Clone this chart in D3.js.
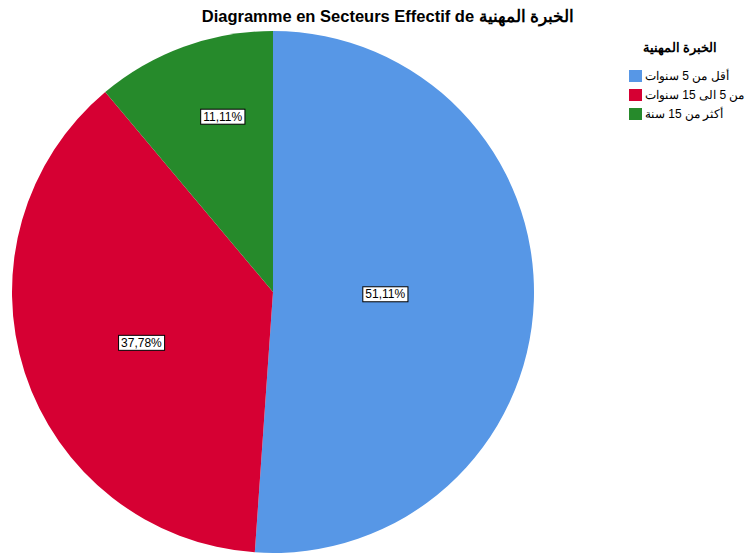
<!DOCTYPE html>
<html>
<head>
<meta charset="utf-8">
<script src="https://cdn.jsdelivr.net/npm/d3@7"></script>
<style>
    body { margin: 0; background: #fff; }
    svg { display: block; font-family: "Liberation Sans", Arial, sans-serif; }
</style>
</head>
<body>
<div id="chart"></div>
<script>

// data
let categories = ["أقل من 5 سنوات", "من 5 الى 15 سنوات", "أكثر من 15 سنة"];
let percents = [51.11, 37.78, 11.11];
let sliceColors = ["#5797e6", "#d60033", "#268a2b"];
let chartTitle = "Diagramme en Secteurs Effectif de الخبرة المهنية";
let legendTitle = "الخبرة المهنية";

let width = 748,
    height = 554;

let svg = d3.select("#chart").append("svg")
    .attr("width", width)
    .attr("height", height);

// title
svg.append("text")
    .attr("x", 388)
    .attr("y", 22)
    .attr("text-anchor", "middle")
    .style("font-size", "16.5px")
    .style("font-weight", "bold")
    .text(chartTitle);

// pie
let cx = 273, cy = 292, radius = 261;

let pie = d3.pie()
    .sort(null)
    .value(d => d);

let arc = d3.arc()
    .innerRadius(0)
    .outerRadius(radius);

let color = d3.scaleOrdinal()
    .domain(categories)
    .range(sliceColors);

let g = svg.append("g")
    .attr("transform", `translate(${cx}, ${cy})`);

let arcs = pie(percents);

g.selectAll(".slice")
    .data(arcs)
    .enter()
    .append("path")
    .attr("class", "slice")
    .attr("d", arc)
    .attr("fill", (d, i) => color(categories[i]));

// labels sit at different depths per slice like the spss output
let labelDepth = [0.43, 0.54, 0.70];
let labelTurn = [-1, -3, 4]; // degrees
let labelFmt = v => d3.format(".2f")(v).replace(".", ",") + "%";

let labels = g.selectAll(".lbl")
    .data(arcs)
    .enter()
    .append("g")
    .attr("class", "lbl")
    .attr("transform", (d, i) => {
        let r = radius * labelDepth[i];
        let a = (d.startAngle + d.endAngle) / 2 + labelTurn[i] * Math.PI / 180;
        return `translate(${r * Math.sin(a)}, ${-r * Math.cos(a)})`;
    });

labels.append("text")
    .attr("text-anchor", "middle")
    .attr("dy", "0.36em")
    .style("font-size", "12px")
    .text(d => labelFmt(d.data));

labels.each(function () {
    let t = d3.select(this).select("text");
    let bb = t.node().getBBox();
    d3.select(this).insert("rect", "text")
        .attr("x", bb.x - 2.5)
        .attr("y", bb.y - 0.5)
        .attr("width", bb.width + 5)
        .attr("height", bb.height + 1)
        .attr("fill", "#fff")
        .attr("stroke", "#000")
        .attr("stroke-width", 1);
});

// legend
let legend = svg.append("g")
    .attr("transform", "translate(629, 0)");

legend.append("text")
    .attr("x", 51)
    .attr("y", 52)
    .attr("text-anchor", "middle")
    .style("font-size", "13px")
    .style("font-weight", "bold")
    .text(legendTitle);

let rows = legend.selectAll(".row")
    .data(categories)
    .enter()
    .append("g")
    .attr("class", "row")
    .attr("transform", (d, i) => `translate(0, ${70 + i * 19})`);

rows.append("rect")
    .attr("width", 13)
    .attr("height", 12)
    .attr("fill", d => color(d));

rows.append("text")
    .attr("x", 16)
    .attr("y", 10)
    .style("font-size", "12px")
    .text(d => d);

</script>
</body>
</html>
